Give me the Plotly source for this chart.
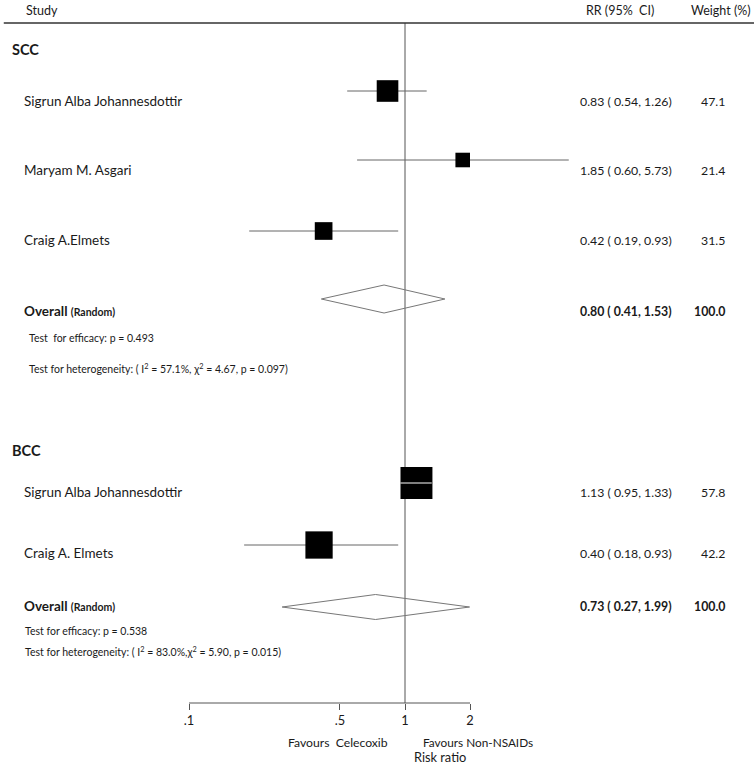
import math
import plotly.graph_objects as go

# ---------------- data ----------------
scc_studies = ["Sigrun Alba Johannesdottir", "Maryam M. Asgari", "Craig A.Elmets"]
scc_rr = [0.83, 1.85, 0.42]
scc_lo = [0.54, 0.60, 0.19]
scc_hi = [1.26, 5.73, 0.93]
scc_weight = [47.1, 21.4, 31.5]
scc_overall = [0.80, 0.41, 1.53]          # estimate, lower, upper
scc_efficacy = "Test  for efficacy: p = 0.493"
scc_het = "Test for heterogeneity: ( I<sup>2</sup> = 57.1%, \u03c7<sup>2</sup> = 4.67, p = 0.097)"

bcc_studies = ["Sigrun Alba Johannesdottir", "Craig A. Elmets"]
bcc_rr = [1.13, 0.40]
bcc_lo = [0.95, 0.18]
bcc_hi = [1.33, 0.93]
bcc_weight = [57.8, 42.2]
bcc_overall = [0.73, 0.27, 1.99]
bcc_efficacy = "Test for efficacy: p = 0.538"
bcc_het = "Test for heterogeneity: ( I<sup>2</sup> = 83.0%,\u03c7<sup>2</sup> = 5.90, p = 0.015)"

tick_vals = [0.1, 0.5, 1, 2]
tick_text = [".1", ".5", "1", "2"]

# ---------------- layout helpers ----------------
W, H = 754, 772
FONT = "Lato, 'Open Sans', sans-serif"
TXT = "#1a1a1a"
LINE = "#666666"
PX_PER_DEC = 216.0
X_ONE = 405.0                 # pixel of RR = 1
x_range = [-X_ONE / PX_PER_DEC, (W - X_ONE) / PX_PER_DEC]
AXIS_Y = 703

groups = [
    dict(name="SCC", head_y=49, studies=scc_studies, rr=scc_rr, lo=scc_lo, hi=scc_hi,
         w=scc_weight, ov=scc_overall, mark_y=[91, 160, 231], text_y=[101, 170, 240],
         dia_y=299, dia_h=14, ov_text_y=311, box_k=3.15,
         eff=scc_efficacy, het=scc_het, eff_y=338, het_y=368, test_x=27),
    dict(name="BCC", head_y=450, studies=bcc_studies, rr=bcc_rr, lo=bcc_lo, hi=bcc_hi,
         w=bcc_weight, ov=bcc_overall, mark_y=[483, 545], text_y=[492, 553],
         dia_y=607, dia_h=12.5, ov_text_y=606, box_k=4.2,
         eff=bcc_efficacy, het=bcc_het, eff_y=631, het_y=651, test_x=23),
]

fig = go.Figure()
ann = []


def add_text(xp, y, text, size=12.5, bold=False, anchor="left"):
    if bold:
        text = "<b>" + text + "</b>"
    ann.append(dict(x=xp / W, y=y, xref="paper", yref="y", text=text, showarrow=False,
                    xanchor=anchor, yanchor="middle",
                    font=dict(family=FONT, size=size, color=TXT)))


# header
add_text(24, 10, "Study", 12.5)
add_text(584, 10, "RR (95%  CI)", 12.5)
add_text(753, 10, "Weight (%)", 12.5, anchor="right")

# vertical null line
fig.add_trace(go.Scatter(x=[1, 1], y=[23, AXIS_Y], mode="lines",
                         line=dict(color="#555555", width=1), hoverinfo="skip", showlegend=False))

for g in groups:
    add_text(10, g["head_y"], g["name"], 14.5, bold=True)
    ci_x, ci_y, wx, wy = [], [], [], []
    sizes = [g["box_k"] * math.sqrt(w) for w in g["w"]]
    for i, name in enumerate(g["studies"]):
        y = g["mark_y"][i]
        ci_x += [g["lo"][i], g["hi"][i], None]
        ci_y += [y, y, None]
        half = sizes[i] / 2 / PX_PER_DEC
        if (math.log10(g["lo"][i]) >= math.log10(g["rr"][i]) - half - 0.01 and
                math.log10(g["hi"][i]) <= math.log10(g["rr"][i]) + half + 0.01):
            wx += [g["lo"][i], g["hi"][i], None]
            wy += [y, y, None]
        ty = g["text_y"][i]
        add_text(22, ty, name, 13.5)
        add_text(578, ty, f"{g['rr'][i]:.2f} ( {g['lo'][i]:.2f}, {g['hi'][i]:.2f})", 12.3)
        add_text(727, ty, f"{g['w'][i]:.1f}", 12.3, anchor="right")
    fig.add_trace(go.Scatter(x=ci_x, y=ci_y, mode="lines", line=dict(color=LINE, width=1),
                             hoverinfo="skip", showlegend=False))
    fig.add_trace(go.Scatter(x=g["rr"], y=g["mark_y"], mode="markers",
                             marker=dict(symbol="square", size=sizes, color="#000000",
                                         opacity=1, line=dict(width=0)),
                             opacity=1, hoverinfo="skip", showlegend=False))
    if wx:
        fig.add_trace(go.Scatter(x=wx, y=wy, mode="lines", line=dict(color="white", width=1),
                                 hoverinfo="skip", showlegend=False))
    est, lo, hi = g["ov"]
    dy, h = g["dia_y"], g["dia_h"]
    fig.add_trace(go.Scatter(x=[lo, est, hi, est, lo], y=[dy, dy - h, dy, dy + h, dy],
                             mode="lines", line=dict(color="#777777", width=1),
                             hoverinfo="skip", showlegend=False))
    add_text(22, g["ov_text_y"], "Overall <span style='font-size:10.5px'>(Random)</span>", 13.5, bold=True)
    add_text(578, g["ov_text_y"], f"{est:.2f} ( {lo:.2f}, {hi:.2f})", 12.3, bold=True)
    add_text(727, g["ov_text_y"], f"{sum(g['w']):.1f}", 12.3, bold=True, anchor="right")
    add_text(g["test_x"], g["eff_y"], g["eff"], 10.5)
    add_text(g["test_x"], g["het_y"], g["het"], 10.5)

# axis line from first to last tick
fig.add_trace(go.Scatter(x=[tick_vals[0], tick_vals[-1]], y=[AXIS_Y, AXIS_Y], mode="lines",
                         line=dict(color="#555555", width=1), hoverinfo="skip", showlegend=False))

add_text(286, 742, "Favours  Celecoxib", 12.2)
add_text(421, 742, "Favours Non-NSAIDs", 11.8)
add_text(440, 757, "Risk ratio", 12.8, anchor="center")

fig.update_layout(
    width=W, height=H, margin=dict(l=0, r=0, t=0, b=0),
    paper_bgcolor="white", plot_bgcolor="white",
    showlegend=False, annotations=ann,
    shapes=[dict(type="line", xref="paper", yref="y", x0=0.005, x1=1, y0=23, y1=23,
                 line=dict(color="#333333", width=1.5))],
    xaxis=dict(type="log", range=x_range, domain=[0, 1], anchor="free",
               position=(H - AXIS_Y) / H, showgrid=False, zeroline=False, showline=False,
               tickvals=tick_vals, ticktext=tick_text, ticks="outside", ticklen=6,
               tickwidth=1, tickcolor="#555555", ticklabelstandoff=0,
               tickfont=dict(family=FONT, size=12.8, color=TXT), fixedrange=True),
    yaxis=dict(range=[H, 0], domain=[0, 1], visible=False, fixedrange=True),
)

fig.write_html("out.html", config={"displayModeBar": False, "staticPlot": True},
               post_script="document.body.style.margin='0';document.body.style.overflow='hidden';")
